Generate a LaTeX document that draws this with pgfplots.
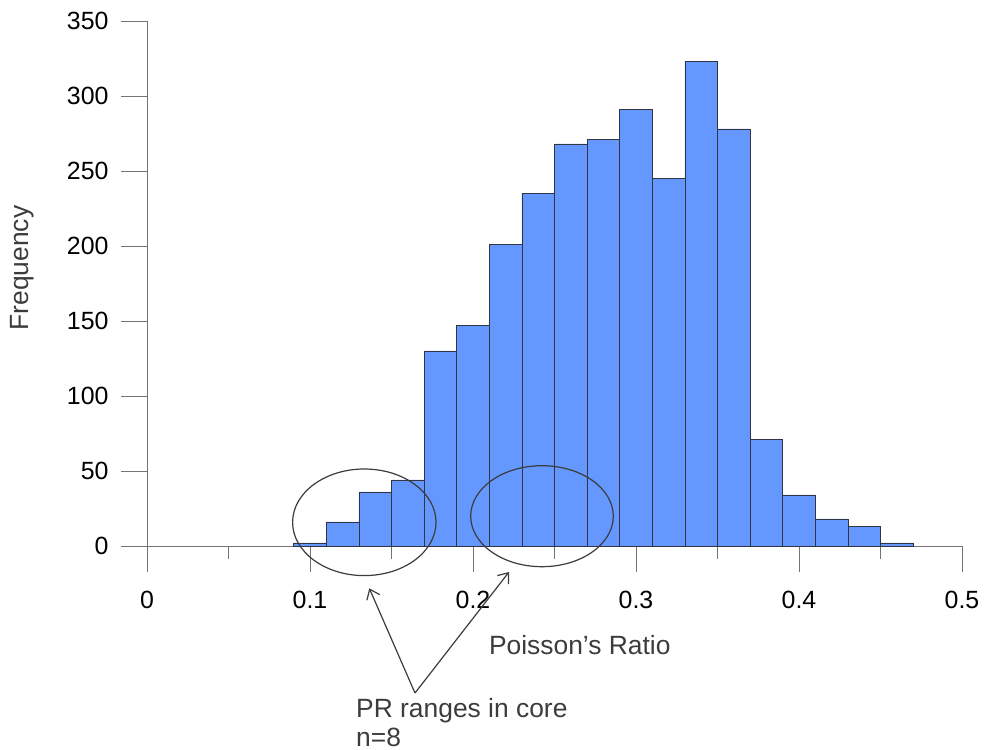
\documentclass[border=0pt]{standalone}
\usepackage{fontspec}
\setmainfont{Liberation Sans}
\usepackage{pgfplots}
\pgfplotsset{compat=1.18}
\usetikzlibrary{arrows.meta}
\definecolor{barblue}{RGB}{100,152,255}
\definecolor{baredge}{RGB}{50,52,65}
\definecolor{axgray}{RGB}{115,115,115}
\definecolor{labgray}{RGB}{60,60,60}
\begin{document}
\begin{tikzpicture}
\useasboundingbox (0,0) rectangle (984bp,750bp);
\begin{axis}[
  at={(147bp,204bp)}, anchor=south west,
  scale only axis, width=815bp, height=525bp,
  xmin=0, xmax=0.5, ymin=0, ymax=350,
  axis x line*=bottom, axis y line*=left,
  axis line style={axgray, line width=0.9bp},
  xtick={0,0.1,0.2,0.3,0.4,0.5},
  minor xtick={0.05,0.15,0.25,0.35,0.45},
  ytick={0,50,100,150,200,250,300,350},
  tick align=outside,
  major tick length=26bp, minor tick length=13bp,
  tick style={axgray, line width=0.9bp},
  tick label style={font=\fontsize{25}{29}\selectfont, black},
  /pgf/number format/assume math mode=true,
  xticklabel style={anchor=center, yshift=-28bp},
  yticklabel style={anchor=east, xshift=-9bp},
  xlabel={Poisson’s Ratio},
  ylabel={Frequency},
  label style={font=\fontsize{26.5}{30}\selectfont, labgray},
  xlabel style={at={(axis description cs:0.531,-0.1886)}, anchor=center},
  ylabel style={at={(axis description cs:-0.1534,0.5295)}, anchor=center},
  clip=false,
]
\addplot[ybar interval, fill=barblue, draw=baredge, line width=0.7bp] coordinates {
  (0.09,2) (0.11,16) (0.13,36) (0.15,44) (0.17,130) (0.19,147)
  (0.21,201) (0.23,235) (0.25,268) (0.27,271) (0.29,291) (0.31,245)
  (0.33,323) (0.35,278) (0.37,71) (0.39,34) (0.41,18) (0.43,13)
  (0.45,2) (0.47,0)
};
\end{axis}
\draw[labgray, line width=1.2bp] (364.3bp,227.7bp) ellipse [x radius=71.7bp, y radius=53.3bp];
\draw[labgray, line width=1.2bp] (542bp,233.8bp) ellipse [x radius=71.3bp, y radius=50.5bp];
\draw[labgray, line width=1.2bp, -{Straight Barb[length=9bp,width=14bp]}] (415bp,57bp) -- (369.3bp,161.7bp);
\draw[labgray, line width=1.2bp, -{Straight Barb[length=9bp,width=14bp]}] (415bp,57bp) -- (509bp,178bp);
\node[anchor=base west, inner sep=0pt, font=\fontsize{26.5}{30}\selectfont, labgray] at (356bp,33bp) {PR ranges in core};
\node[anchor=base west, inner sep=0pt, font=\fontsize{26.5}{30}\selectfont, labgray] at (356bp,4bp) {n=8};
\end{tikzpicture}
\end{document}
